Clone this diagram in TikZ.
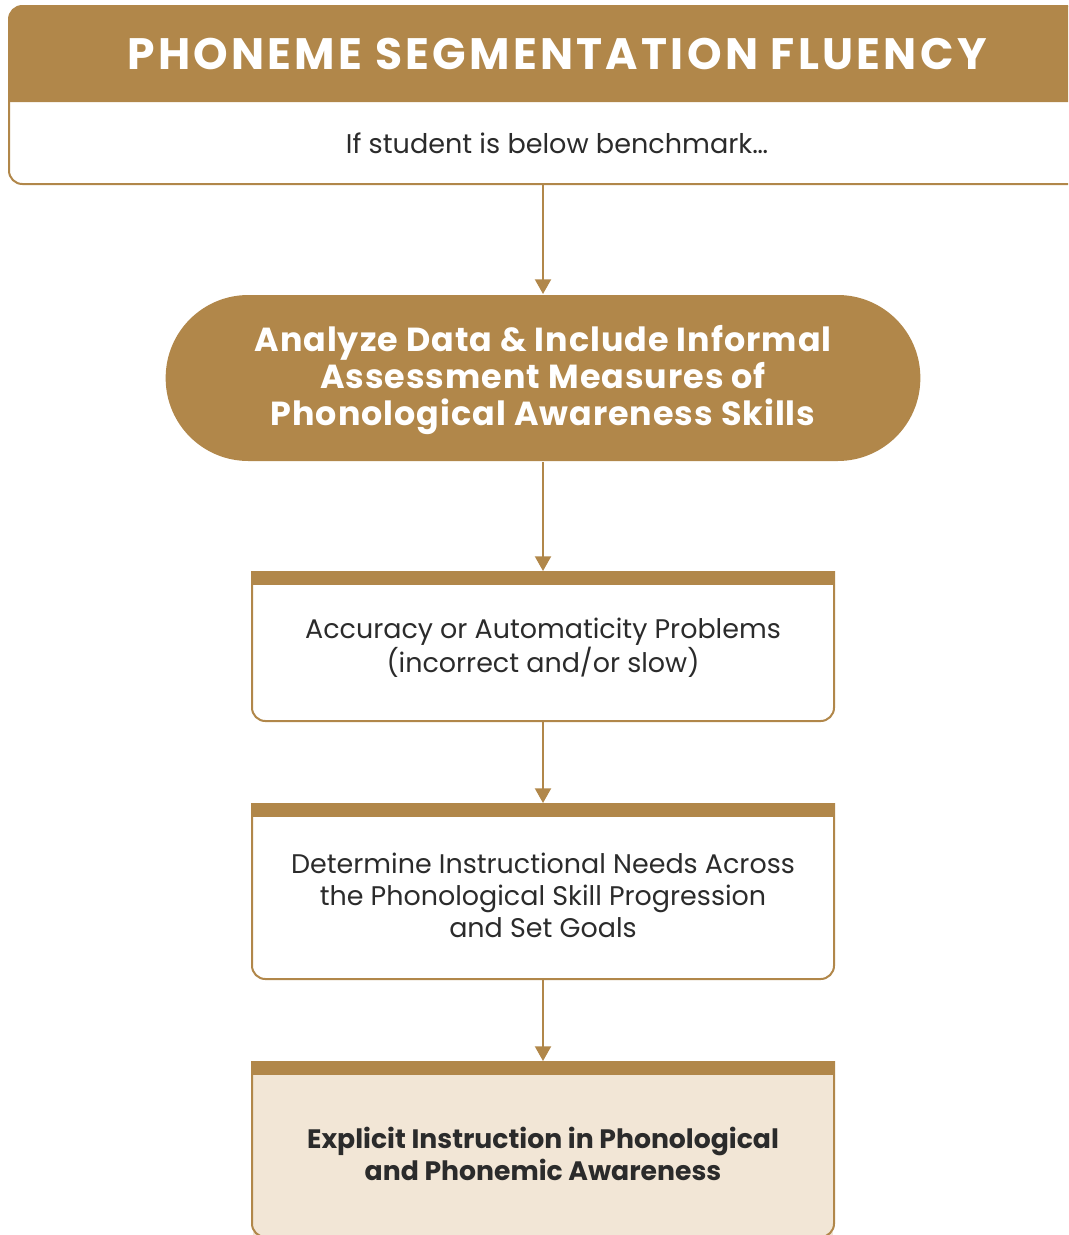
\documentclass[tikz,border=0pt]{standalone}
\usepackage{fontspec}
\setmainfont{Poppins}
\usetikzlibrary{arrows.meta, positioning, calc}
\definecolor{gold}{HTML}{B1874A}
\definecolor{sand}{HTML}{F2E6D6}
\definecolor{ink}{HTML}{2B2B2B}

\tikzset{
  stepbox/.style={minimum width=435pt, inner sep=0pt},
  steptext/.style={align=center, text=ink, inner sep=0pt, font=\fontsize{20.2}{24}\selectfont},
  headtext/.style={text=white, align=center,
    font=\bfseries\fontsize{25}{27.75}\selectfont\addfontfeature{LetterSpace=3}},
}

\begin{document}
\begin{tikzpicture}[x=0.75pt, y=-0.75pt, >={Triangle[width=12pt,length=11pt]}, line width=1.5pt]
  \useasboundingbox (0,0) rectangle (1068,1235);
  \clip (0,0) rectangle (1068,1235);

  % heading card
  \fill[gold, rounded corners=10] (9,102) -- (9,6) -- (1105,6) -- (1105,102) [sharp corners] -- cycle;
  \draw[gold, rounded corners=10] (9,6) rectangle (1105,184);
  \node[headtext, font=\bfseries\fontsize{33}{38}\selectfont\addfontfeature{LetterSpace=7.5}] (head) at (557,54) {PHONEME SEGMENTATION FLUENCY};
  \node[stepbox, steptext, minimum width=822pt, minimum height=61.5pt, font=\fontsize{20.3}{23}\selectfont] (cond) at (557,143) {If student is below benchmark…};

  \node[headtext, fill=gold, rounded corners=62pt, minimum width=566pt, minimum height=124.5pt, inner sep=0pt] (ana) at (543,378) {};
  \node[headtext] (anaText) at ([yshift=-1.5pt]ana.center)
    {Analyze Data \& Include Informal\\Assessment Measures of\\Phonological Awareness Skills};

  \node[stepbox, minimum height=111pt] (acc) at (543,646) {};
  \node[steptext] (accText) at ([yshift=-1.5pt]acc.center)
    {Accuracy or Automaticity Problems\\(incorrect and/or slow)};
  \node[stepbox, minimum height=130.5pt] (need) at (543,891) {};
  \node[steptext] (needText) at ([yshift=-3pt]need.center)
    {Determine Instructional Needs Across\\the Phonological Skill Progression\\and Set Goals};
  \node[stepbox, fill=sand, minimum height=130.5pt] (expl) at (543,1149) {};
  \node[steptext, font=\bfseries\fontsize{20}{24}\selectfont] (explText) at ([yshift=-3.5pt]expl.center)
    {Explicit Instruction in Phonological\\and Phonemic Awareness};

  \foreach \b in {acc, need, expl} {
    \draw[gold, rounded corners=10] (\b.north west) -- (\b.south west) -- (\b.south east) -- (\b.north east);
    \fill[gold] (\b.north west) rectangle ($(\b.north east)+(0,14)$);
  }

  \draw[gold, ->] (cond.south -| ana.north) -- (ana.north);
  \draw[gold, ->] (ana) -- (acc);
  \draw[gold, ->] (acc) -- (need);
  \draw[gold, ->] (need) -- (expl);
\end{tikzpicture}
\end{document}
